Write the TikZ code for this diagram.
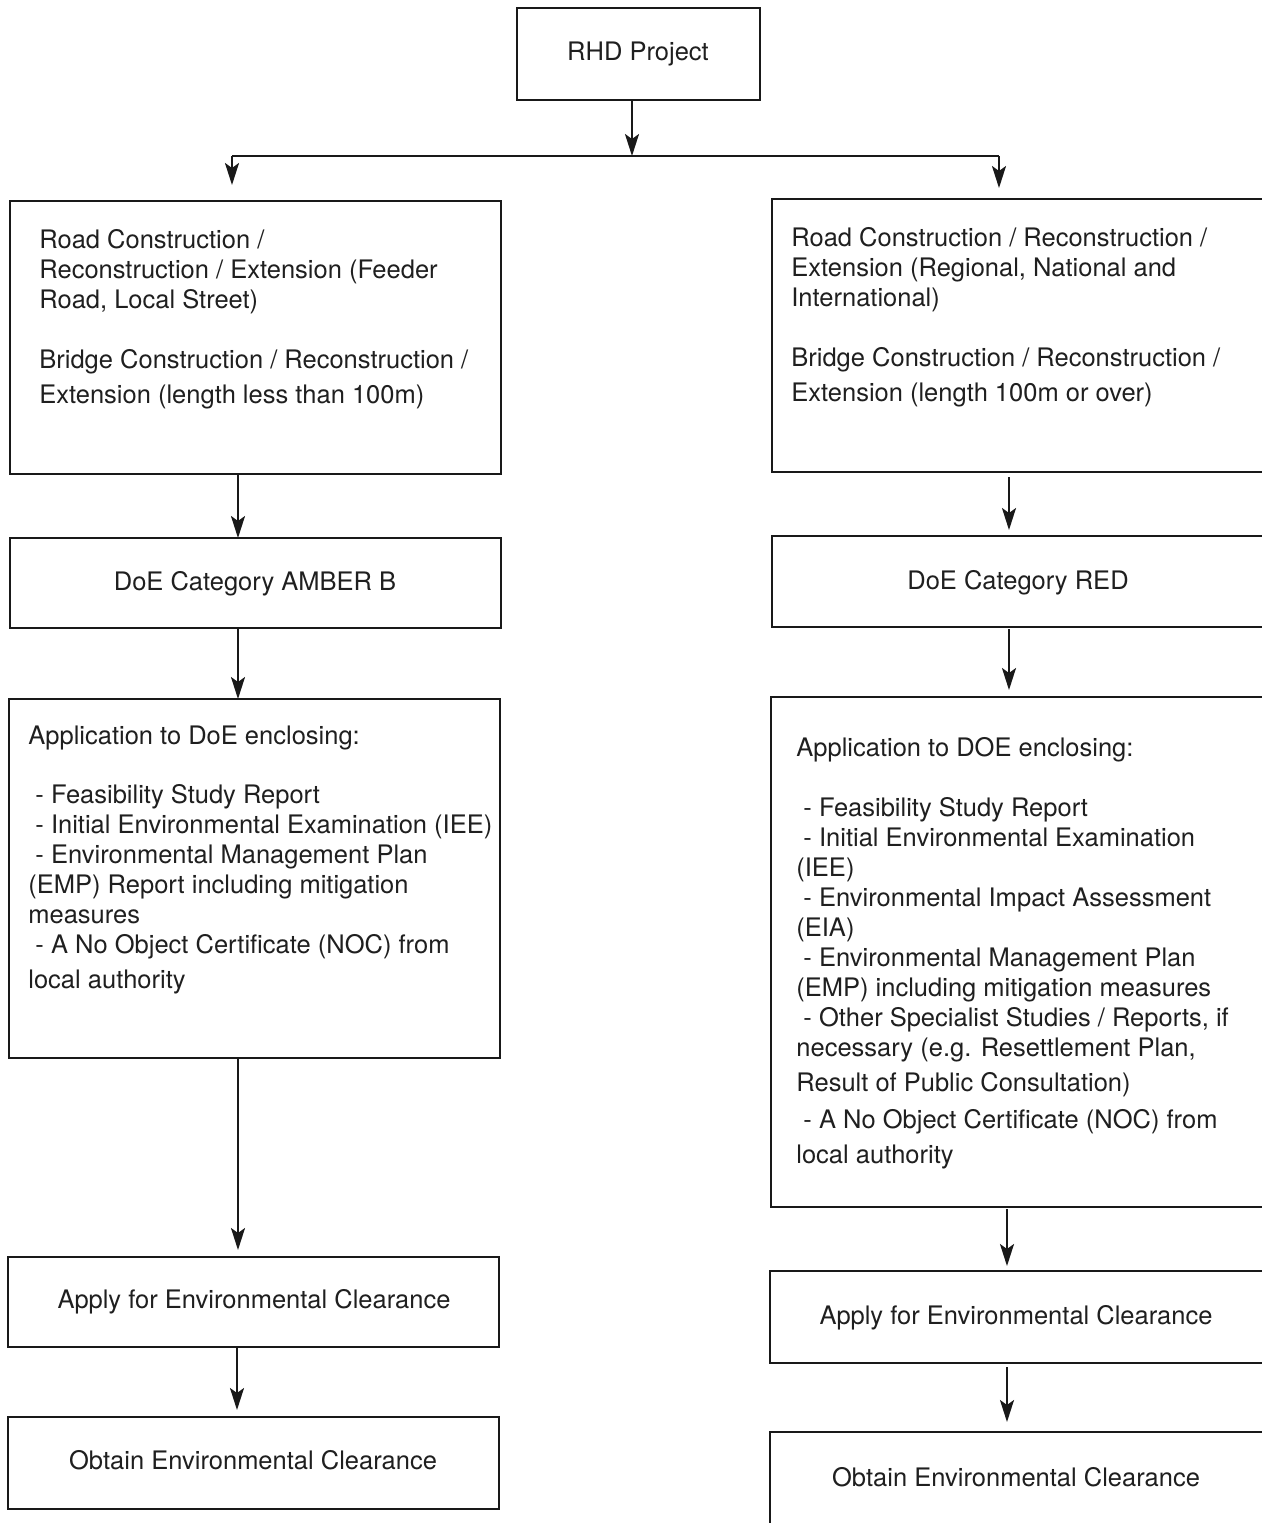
\documentclass[tikz,border=0pt]{standalone}
\usepackage{fontspec}
\setmainfont{TeX Gyre Heros}
\usetikzlibrary{arrows.meta}
\begin{document}
\begin{tikzpicture}[x=0.5pt,y=-0.5pt,
  box/.style={draw=black!90,line width=1pt,inner sep=0pt,outer sep=0pt,anchor=north west},
  lbl/.style={font=\fontsize{12.75}{15}\selectfont,text=black!88,inner sep=0pt,text height=9pt,text depth=0pt},
  para/.style={font=\fontsize{12.75}{15}\selectfont,text=black!88,inner sep=0pt,anchor=north west,align=left},
  arr/.style={draw=black!90,line width=1.1pt,-{Stealth[length=11pt,width=7pt,inset=2.5pt]}},
  bar/.style={draw=black!90,line width=1.1pt}]
\useasboundingbox (0,0) rectangle (1262,1523);
\clip (0,0) rectangle (1262,1523);
\fill[white] (0,0) rectangle (1262,1523);

% boxes
\node[box,minimum width=121.5pt,minimum height=46pt] (rhd) at (517,8) {};
\node[box,minimum width=245.5pt,minimum height=136.5pt] (l1) at (10,201) {};
\node[box,minimum width=247pt,minimum height=136.5pt] (r1) at (772,199) {};
\node[box,minimum width=245.5pt,minimum height=45pt] (l2) at (10,538) {};
\node[box,minimum width=247pt,minimum height=45.5pt] (r2) at (772,536) {};
\node[box,minimum width=245.5pt,minimum height=179.5pt] (l3) at (9,699) {};
\node[box,minimum width=247.5pt,minimum height=255pt] (r3) at (771,697) {};
\node[box,minimum width=245.5pt,minimum height=45pt] (l4) at (8,1257) {};
\node[box,minimum width=248pt,minimum height=46pt] (r4) at (770,1271) {};
\node[box,minimum width=245.5pt,minimum height=46pt] (l5) at (8,1417) {};
\node[box,minimum width=248pt,minimum height=50pt] (r5) at (770,1432) {};

% single-line texts
\node[lbl] (trhd) at (638,51) {RHD Project};
\node[lbl] (tl2) at (255,581) {DoE Category AMBER B};
\node[lbl] (tr2) at (1018,580) {DoE Category RED};
\node[lbl] (tl4) at (254,1299) {Apply for Environmental Clearance};
\node[lbl] (tr4) at (1016,1315) {Apply for Environmental Clearance};
\node[lbl] (tl5) at (253,1460) {Obtain Environmental Clearance};
\node[lbl] (tr5) at (1016,1477) {Obtain Environmental Clearance};

% paragraphs
\node[para] (tl1) at (39,229) {Road Construction /\\
Reconstruction / Extension (Feeder\\
Road, Local Street)\\[15pt]
Bridge Construction / Reconstruction /\\[2.5pt]
Extension (length less than 100m)};
\node[para] (tr1) at (791,227) {Road Construction / Reconstruction /\\
Extension (Regional, National and\\
International)\\[15pt]
Bridge Construction / Reconstruction /\\[2.5pt]
Extension (length 100m or over)};
\node[para] (tl3) at (28,725) {Application to DoE enclosing:\\[14.5pt]
\ - Feasibility Study Report\\
\ - Initial Environmental Examination (IEE)\\
\ - Environmental Management Plan\\
(EMP) Report including mitigation\\
measures\\
\ - A No Object Certificate (NOC) from\\[2.5pt]
local authority};
\node[para] (tr3) at (796,737) {Application to DOE enclosing:\\[15pt]
\ - Feasibility Study Report\\
\ - Initial Environmental Examination\\
(IEE)\\
\ - Environmental Impact Assessment\\
(EIA)\\
\ - Environmental Management Plan\\
(EMP) including mitigation measures\\
\ - Other Specialist Studies / Reports, if\\
necessary (e.g. Resettlement Plan,\\[2.5pt]
Result of Public Consultation)\\[3.5pt]
\ - A No Object Certificate (NOC) from\\[2.5pt]
local authority};

% connector coordinates
\coordinate (j) at (632,156);
\coordinate (jl) at (232,156);
\coordinate (jr) at (999,156);
\coordinate (xl) at (238,0);
\coordinate (xr) at (1009,0);
\coordinate (xl2) at (237,0);
\coordinate (xr2) at (1007,0);

\draw[arr] (rhd.south -| j) -- (j);
\draw[bar] (jl) -- (jr);
\draw[arr,shorten >=8pt] (jl) -- (jl |- l1.north);
\draw[arr,shorten >=5.5pt] (jr) -- (jr |- r1.north);

\draw[arr] (l1.south -| xl) -- (l2.north -| xl);
\draw[arr,shorten <=2.5pt,shorten >=3pt] (r1.south -| xr) -- (r2.north -| xr);
\draw[arr] (l2.south -| xl) -- (l3.north -| xl);
\draw[arr,shorten <=1pt,shorten >=3.5pt] (r2.south -| xr) -- (r3.north -| xr);
\draw[arr,shorten >=3.5pt] (l3.south -| xl) -- (l4.north -| xl);
\draw[arr,shorten <=1pt,shorten >=2.5pt] (r3.south -| xr2) -- (r4.north -| xr2);
\draw[arr,shorten >=3.5pt] (l4.south -| xl2) -- (l5.north -| xl2);
\draw[arr,shorten <=2pt,shorten >=5pt] (r4.south -| xr2) -- (r5.north -| xr2);
\end{tikzpicture}
\end{document}
